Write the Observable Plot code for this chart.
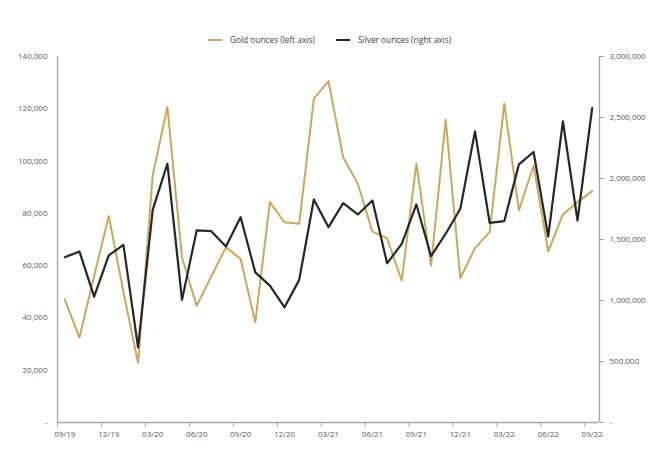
<!DOCTYPE html>
<html>
<head>
<meta charset="utf-8">
<script src="https://cdn.jsdelivr.net/npm/d3@7"></script>
<script src="https://cdn.jsdelivr.net/npm/@observablehq/plot@0.6"></script>
<style>
  html, body { margin: 0; padding: 0; background: #fff; }
  body { width: 660px; height: 457px; overflow: hidden; font-family: "Open Sans", sans-serif; }
  #legend { height: 50px; box-sizing: border-box; padding-top: 34px; display: flex; font-size: 8.3px; line-height: 12px; color: #404040; }
  .item { display: flex; align-items: center; position: absolute; top: 34px; }
  .sw { display: inline-block; width: 14px; height: 2.4px; margin-right: 8px; }
</style>
</head>
<body>
<div id="legend"></div>
<div id="chart"></div>
<script>
const months = ["09/19","10/19","11/19","12/19","01/20","02/20","03/20","04/20","05/20","06/20","07/20","08/20",
  "09/20","10/20","11/20","12/20","01/21","02/21","03/21","04/21","05/21","06/21","07/21","08/21",
  "09/21","10/21","11/21","12/21","01/22","02/22","03/22","04/22","05/22","06/22","07/22","08/22","09/22"];
const gold = [47000, 32500, 56000, 79000, 50000, 22800, 94500, 120700, 63200, 44600, 55900, 67000,
  62600, 38300, 84300, 76600, 76000, 123900, 130600, 101500, 91300, 73000, 70500, 54300,
  99000, 60000, 115800, 55200, 66700, 72800, 122000, 81100, 98300, 65400, 79600, 84300, 88500];
const silver = [1355000, 1401000, 1032000, 1369000, 1456000, 616000, 1743000, 2121000, 1005000, 1574000, 1568000, 1442000,
  1683000, 1231000, 1122000, 944000, 1169000, 1828000, 1601000, 1798000, 1705000, 1820000, 1305000, 1464000,
  1787000, 1363000, 1547000, 1752000, 2386000, 1637000, 1650000, 2116000, 2217000, 1525000, 2469000, 1656000, 2578000];
const leftTicks = [0, 20000, 40000, 60000, 80000, 100000, 120000, 140000];
const rightTicks = [0, 500000, 1000000, 1500000, 2000000, 2500000, 3000000];
const seriesNames = ["Gold ounces (left axis)", "Silver ounces (right axis)"];
const colors = ["#C9A85C", "#262626"];

const leftMax = 140000, rightMax = 3000000;
const k = leftMax / rightMax;
const fmt = d3.format(",");

const goldData = gold.map((v, i) => ({i, v}));
const silverData = silver.map((v, i) => ({i, v: v * k}));
const labelIdx = months.map((m, i) => i).filter(i => i % 3 === 0);
const boundaries = labelIdx.map(i => i - 0.5);

// legend
const legend = document.getElementById("legend");
const legendX = [208, 336];
seriesNames.forEach((name, j) => {
  const it = document.createElement("div");
  it.className = "item";
  it.style.left = legendX[j] + "px";
  it.innerHTML = `<span class="sw" style="background:${colors[j]}"></span><span>${name}</span>`;
  legend.appendChild(it);
});

const axisColor = "#a6a6a6";
const textColor = "#595959";

const chart = Plot.plot({
  width: 660,
  height: 407,
  marginTop: 6,
  marginBottom: 35,
  marginLeft: 57,
  marginRight: 61,
  style: {fontFamily: "Open Sans", fontSize: "8px", color: textColor, background: "#fff"},
  x: {domain: [-0.5, months.length - 0.5], axis: null},
  y: {domain: [0, leftMax], axis: null},
  marks: [
    Plot.axisY(leftTicks, {anchor: "left", label: null, tickSize: 0, tickPadding: 10, tickFormat: d => d === 0 ? "-" : fmt(d), fill: textColor}),
    Plot.axisY(rightTicks.map(d => d * k), {anchor: "right", label: null, tickSize: 4, tickPadding: 6, stroke: axisColor,
      tickFormat: d => { const v = Math.round(d / k); return v === 0 ? "-" : fmt(v); }, fill: textColor}),
    Plot.axisX(boundaries, {anchor: "bottom", label: null, tickSize: 5, tickFormat: () => "", stroke: axisColor}),
    Plot.axisX(labelIdx, {anchor: "bottom", label: null, tickSize: 0, tickPadding: 9, tickFormat: i => months[i], fill: textColor}),
    Plot.ruleX([-0.5, months.length - 0.5], {y1: 0, y2: leftMax, stroke: axisColor, strokeWidth: 1.3}),
    Plot.ruleY([0], {stroke: axisColor, strokeWidth: 1.3}),
    Plot.line(goldData, {x: "i", y: "v", stroke: colors[0], strokeWidth: 2}),
    Plot.line(silverData, {x: "i", y: "v", stroke: colors[1], strokeWidth: 2.2})
  ]
});
document.getElementById("chart").appendChild(chart);
</script>
</body>
</html>
